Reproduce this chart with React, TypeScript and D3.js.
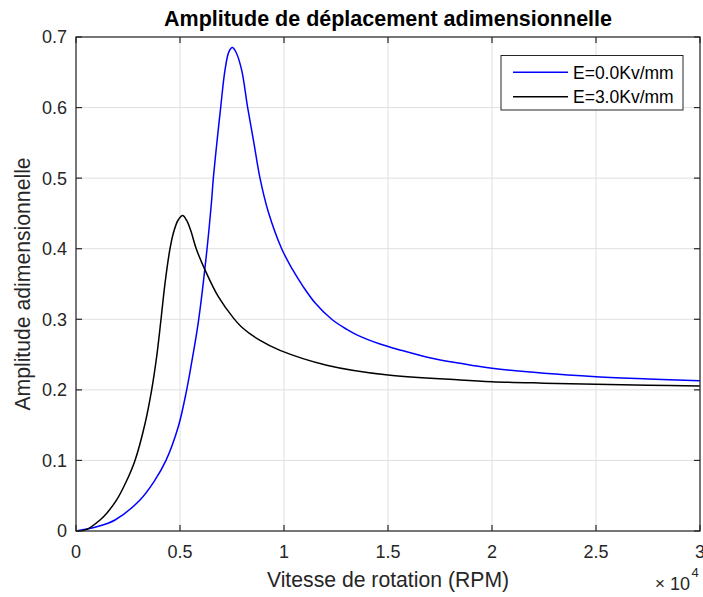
import React from "react";
import * as d3 from "d3";

const rpmBlue = [0, 1000, 1875, 3077, 3750, 4327, 4920, 5321, 5609, 5900, 6300, 6522, 6603, 6955, 7163, 7350, 7516, 7700, 7965, 8253, 8558, 8846, 9247, 9888, 10400, 10929, 11500, 12292, 13000, 13500, 14615, 15577, 17000, 18462, 20000, 22500, 25000, 27500, 30000];
const ampBlue = [0, 0.006, 0.0156, 0.044, 0.07, 0.1, 0.148, 0.2, 0.247, 0.3, 0.4, 0.469, 0.5, 0.6, 0.653, 0.679, 0.685, 0.678, 0.653, 0.6, 0.549, 0.5, 0.452, 0.4, 0.371, 0.346, 0.323, 0.3, 0.286, 0.278, 0.265, 0.2565, 0.2455, 0.2376, 0.2305, 0.2235, 0.2187, 0.2155, 0.213];

const rpmBlack = [0, 500, 1154, 1500, 1955, 2400, 2837, 3317, 3638, 3878, 4087, 4279, 4519, 4679, 4900, 5128, 5320, 5513, 5780, 6202, 6843, 7564, 8000, 8850, 9808, 12051, 15000, 18460, 20000, 22500, 25000, 27500, 30000];
const ampBlack = [0, 0.002, 0.0156, 0.026, 0.044, 0.069, 0.1, 0.152, 0.2, 0.247, 0.3, 0.351, 0.4, 0.422, 0.44, 0.447, 0.44, 0.426, 0.4, 0.37, 0.332, 0.302, 0.288, 0.27, 0.256, 0.235, 0.221, 0.214, 0.2116, 0.2095, 0.2078, 0.2066, 0.2055];

const xTicks = [0, 5000, 10000, 15000, 20000, 25000, 30000];
const xTickLabels = ["0", "0.5", "1", "1.5", "2", "2.5", "3"];
const yTicks = [0, 0.1, 0.2, 0.3, 0.4, 0.5, 0.6, 0.7];
const yTickLabels = ["0", "0.1", "0.2", "0.3", "0.4", "0.5", "0.6", "0.7"];
const seriesNames = ["E=0.0Kv/mm", "E=3.0Kv/mm"];
const seriesColors = ["#0000ff", "#000000"];

const W = 703, H = 597;
const L = 76, R = 700, T = 37, B = 531;
const FONT = "'Liberation Sans', Arial, Helvetica, sans-serif";
const AX = "#262626";

export default function App() {
  const x = d3.scaleLinear().domain([0, 30000]).range([L, R]);
  const y = d3.scaleLinear().domain([0, 0.7]).range([B, T]);
  const line = d3.line<[number, number]>().x(d => x(d[0])).y(d => y(d[1])).curve(d3.curveCatmullRom.alpha(0.5));
  const blue = line(rpmBlue.map((r, i) => [r, ampBlue[i]] as [number, number])) || "";
  const black = line(rpmBlack.map((r, i) => [r, ampBlack[i]] as [number, number])) || "";
  const tl = 6;
  return (
    <svg width={W} height={H} style={{ position: "absolute", left: 0, top: 0, background: "#fff" }} fontFamily={FONT}>
      <rect x={0} y={0} width={W} height={H} fill="#fff" />
      {xTicks.map((t, i) => (
        <line key={"gx" + i} x1={x(t)} x2={x(t)} y1={T} y2={B} stroke="#dfdfdf" strokeWidth={1} />
      ))}
      {yTicks.map((t, i) => (
        <line key={"gy" + i} x1={L} x2={R} y1={y(t)} y2={y(t)} stroke="#dfdfdf" strokeWidth={1} />
      ))}
      <path d={blue} fill="none" stroke={seriesColors[0]} strokeWidth={1.5} />
      <path d={black} fill="none" stroke={seriesColors[1]} strokeWidth={1.5} />
      <rect x={L} y={T} width={R - L} height={B - T} fill="none" stroke={AX} strokeWidth={1.2} />
      {xTicks.map((t, i) => (
        <g key={"tx" + i}>
          <line x1={x(t)} x2={x(t)} y1={B} y2={B - tl} stroke={AX} strokeWidth={1.2} />
          <line x1={x(t)} x2={x(t)} y1={T} y2={T + tl} stroke={AX} strokeWidth={1.2} />
          <text x={x(t)} y={558} textAnchor="middle" fontSize={18} fill={AX}>{xTickLabels[i]}</text>
        </g>
      ))}
      {yTicks.map((t, i) => (
        <g key={"ty" + i}>
          <line x1={L} x2={L + tl} y1={y(t)} y2={y(t)} stroke={AX} strokeWidth={1.2} />
          <line x1={R} x2={R - tl} y1={y(t)} y2={y(t)} stroke={AX} strokeWidth={1.2} />
          <text x={67} y={y(t) + 6.4} textAnchor="end" fontSize={18} fill={AX}>{yTickLabels[i]}</text>
        </g>
      ))}
      <text x={(L + R) / 2} y={26} textAnchor="middle" fontSize={21.5} fontWeight="bold" fill="#000">Amplitude de déplacement adimensionnelle</text>
      <text x={(L + R) / 2} y={587} textAnchor="middle" fontSize={21.2} fill={AX}>Vitesse de rotation (RPM)</text>
      <text transform={`translate(30,${(T + B) / 2}) rotate(-90)`} textAnchor="middle" fontSize={21.2} fill={AX}>Amplitude adimensionnelle</text>
      <text x={655} y={589} fontSize={17} fill={AX}>×</text>
      <text x={670} y={590} fontSize={18} fill={AX}>10</text>
      <text x={691.5} y={577} fontSize={13} fill={AX}>4</text>
      <rect x={501} y={55.5} width={182} height={54.5} fill="#fff" stroke={AX} strokeWidth={1} />
      {seriesNames.map((n, i) => (
        <g key={"lg" + i}>
          <line x1={513} x2={568} y1={72.3 + i * 24.4} y2={72.3 + i * 24.4} stroke={seriesColors[i]} strokeWidth={1.5} />
          <text x={573} y={72.3 + i * 24.4 + 6.3} fontSize={17.5} fill="#000">{n}</text>
        </g>
      ))}
    </svg>
  );
}
